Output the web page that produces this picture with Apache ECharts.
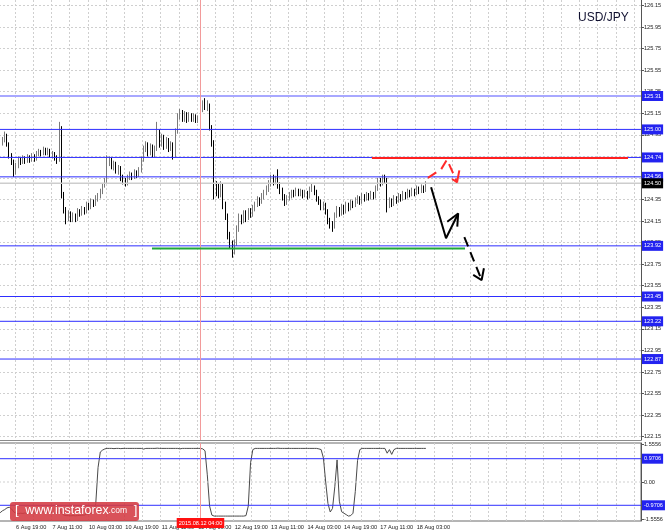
<!DOCTYPE html>
<html><head><meta charset="utf-8">
<script src="https://cdn.jsdelivr.net/npm/echarts@6/dist/echarts.min.js"></script>
<style>html,body{margin:0;padding:0;background:#fff}#c{width:665px;height:530px}</style>
</head><body><div id="c"></div>
<script>
// ---- data (H1 bars, 6 Aug 12:00 .. 18 Aug 07:00), [open, close, low, high]
const ohlc = [
[124.85,124.88,124.82,124.91],[124.88,124.90,124.85,124.93],[124.90,124.94,124.88,124.98],[124.94,124.86,124.84,124.96],
[124.86,124.76,124.73,124.88],[124.76,124.70,124.67,124.78],[124.70,124.60,124.56,124.72],[124.60,124.66,124.58,124.69],
[124.66,124.72,124.64,124.75],[124.72,124.70,124.67,124.74],[124.70,124.73,124.68,124.76],[124.73,124.71,124.68,124.75],
[124.71,124.74,124.69,124.77],[124.74,124.72,124.69,124.76],[124.72,124.75,124.70,124.78],[124.75,124.73,124.70,124.77],
[124.73,124.77,124.71,124.80],[124.77,124.79,124.75,124.82],[124.79,124.78,124.75,124.81],[124.78,124.81,124.76,124.84],
[124.81,124.79,124.76,124.83],[124.79,124.80,124.76,124.83],[124.80,124.77,124.74,124.82],[124.77,124.78,124.73,124.80],
[124.78,124.74,124.71,124.79],[124.74,124.72,124.68,124.76],[124.72,125.00,124.70,125.07],[125.00,124.40,124.36,125.03],
[124.40,124.26,124.22,124.42],[124.26,124.18,124.12,124.28],[124.18,124.22,124.15,124.25],[124.22,124.16,124.14,124.24],
[124.16,124.20,124.14,124.23],[124.20,124.17,124.14,124.22],[124.17,124.24,124.15,124.27],[124.24,124.22,124.19,124.26],
[124.22,124.26,124.20,124.29],[124.26,124.24,124.21,124.28],[124.24,124.30,124.22,124.33],[124.30,124.28,124.25,124.32],
[124.28,124.33,124.26,124.36],[124.33,124.31,124.28,124.35],[124.31,124.36,124.29,124.39],[124.36,124.38,124.33,124.41],
[124.38,124.42,124.36,124.45],[124.42,124.48,124.40,124.50],[124.48,124.52,124.46,124.55],[124.52,124.70,124.50,124.76],
[124.70,124.72,124.66,124.75],[124.72,124.66,124.63,124.74],[124.66,124.69,124.62,124.71],[124.69,124.62,124.59,124.70],
[124.62,124.64,124.58,124.67],[124.64,124.56,124.52,124.66],[124.56,124.52,124.49,124.58],[124.52,124.50,124.47,124.55],
[124.50,124.55,124.48,124.58],[124.55,124.58,124.53,124.61],[124.58,124.56,124.53,124.60],[124.56,124.60,124.54,124.63],
[124.60,124.58,124.55,124.62],[124.58,124.62,124.56,124.65],[124.62,124.72,124.60,124.75],[124.72,124.82,124.70,124.85],
[124.82,124.86,124.79,124.89],[124.86,124.78,124.75,124.88],[124.78,124.84,124.76,124.87],[124.84,124.76,124.74,124.86],
[124.76,124.82,124.74,124.85],[124.82,124.98,124.80,125.07],[124.98,124.86,124.83,125.00],[124.86,124.93,124.84,124.96],
[124.93,124.84,124.81,124.95],[124.84,124.90,124.82,124.93],[124.90,124.82,124.79,124.92],[124.82,124.86,124.80,124.89],
[124.86,124.76,124.72,124.88],[124.76,124.98,124.74,125.01],[124.98,125.12,124.96,125.15],[125.12,125.16,125.09,125.19],
[125.16,125.10,125.07,125.18],[125.10,125.14,125.07,125.17],[125.14,125.09,125.06,125.16],[125.09,125.13,125.07,125.16],
[125.13,125.10,125.07,125.15],[125.10,125.12,125.07,125.15],[125.12,125.08,125.06,125.14],[125.08,125.10,125.06,125.13],
[125.10,125.18,125.08,125.20],[125.18,125.24,125.16,125.27],[125.24,125.21,125.18,125.29],[125.21,125.22,125.17,125.27],
[125.22,125.02,124.99,125.24],[125.02,124.88,124.84,125.04],[124.88,124.48,124.35,124.90],[124.48,124.45,124.38,124.52],
[124.45,124.40,124.36,124.50],[124.40,124.48,124.37,124.52],[124.48,124.30,124.26,124.50],[124.30,124.20,124.16,124.33],
[124.20,124.02,123.98,124.22],[124.02,123.94,123.90,124.05],[123.94,123.88,123.81,123.97],[123.88,123.95,123.84,123.98],
[123.95,124.08,123.92,124.11],[124.08,124.18,124.05,124.22],[124.18,124.15,124.12,124.21],[124.15,124.22,124.13,124.25],
[124.22,124.18,124.14,124.25],[124.18,124.24,124.16,124.27],[124.24,124.21,124.18,124.27],[124.21,124.27,124.19,124.30],
[124.27,124.30,124.24,124.33],[124.30,124.35,124.28,124.38],[124.35,124.33,124.29,124.37],[124.33,124.38,124.31,124.41],
[124.38,124.41,124.35,124.44],[124.41,124.45,124.39,124.48],[124.45,124.50,124.42,124.53],[124.50,124.56,124.47,124.58],
[124.56,124.52,124.48,124.58],[124.52,124.55,124.49,124.57],[124.55,124.48,124.45,124.63],[124.48,124.44,124.40,124.51],
[124.44,124.38,124.34,124.46],[124.38,124.33,124.29,124.40],[124.33,124.36,124.30,124.39],[124.36,124.39,124.34,124.42],
[124.39,124.42,124.36,124.44],[124.42,124.40,124.37,124.44],[124.40,124.43,124.38,124.46],[124.43,124.41,124.38,124.45],
[124.41,124.42,124.38,124.45],[124.42,124.39,124.36,124.44],[124.39,124.41,124.37,124.44],[124.41,124.38,124.35,124.43],
[124.38,124.44,124.36,124.47],[124.44,124.47,124.42,124.50],[124.47,124.42,124.39,124.48],[124.42,124.36,124.33,124.44],
[124.36,124.33,124.30,124.38],[124.33,124.28,124.25,124.35],[124.28,124.30,124.25,124.33],[124.30,124.24,124.21,124.32],
[124.24,124.15,124.12,124.26],[124.15,124.12,124.08,124.18],[124.12,124.10,124.05,124.15],[124.10,124.20,124.08,124.23],
[124.20,124.26,124.18,124.29],[124.26,124.22,124.19,124.28],[124.22,124.28,124.20,124.31],[124.28,124.24,124.21,124.30],
[124.24,124.30,124.22,124.33],[124.30,124.27,124.24,124.32],[124.27,124.32,124.25,124.35],[124.32,124.30,124.27,124.34],
[124.30,124.34,124.28,124.37],[124.34,124.36,124.31,124.39],[124.36,124.33,124.30,124.38],[124.33,124.38,124.31,124.41],
[124.38,124.36,124.33,124.40],[124.36,124.39,124.34,124.42],[124.39,124.37,124.34,124.41],[124.37,124.40,124.35,124.43],
[124.40,124.38,124.35,124.42],[124.38,124.45,124.36,124.48],[124.45,124.52,124.43,124.55],[124.52,124.50,124.47,124.55],
[124.50,124.55,124.48,124.58],[124.55,124.53,124.50,124.58],[124.53,124.30,124.23,124.55],[124.30,124.34,124.27,124.37],
[124.34,124.31,124.28,124.36],[124.31,124.36,124.29,124.39],[124.36,124.34,124.31,124.38],[124.34,124.38,124.32,124.41],
[124.38,124.36,124.33,124.40],[124.36,124.40,124.34,124.43],[124.40,124.38,124.35,124.42],[124.38,124.42,124.36,124.45],
[124.42,124.40,124.37,124.44],[124.40,124.43,124.38,124.46],[124.43,124.41,124.38,124.45],[124.41,124.45,124.39,124.48],
[124.45,124.43,124.40,124.47],[124.43,124.46,124.41,124.49],[124.46,124.44,124.41,124.48],[124.44,124.50,124.42,124.52]
];
const osc = [
-1.28,-1.20,-1.15,-1.08,-1.05,-1.12,-1.25,-1.30,-1.32,-1.30,
-1.31,-1.29,-1.32,-1.30,-1.28,-1.30,-1.27,-1.25,-1.26,-1.24,
-1.26,-1.25,-1.28,-1.27,-1.30,-1.32,-1.05,-1.30,-1.38,-1.40,
-1.40,-1.41,-1.40,-1.41,-1.40,-1.39,-1.38,-1.38,-1.34,-1.33,
-1.30,-1.25,-0.90,0.60,1.25,1.33,1.38,1.40,1.40,1.40,
1.39,1.40,1.40,1.39,1.40,1.40,1.40,1.40,1.40,1.40,
1.40,1.40,1.40,1.37,1.40,1.40,1.40,1.40,1.40,1.41,
1.40,1.40,1.40,1.40,1.40,1.40,1.40,1.40,1.40,1.38,
1.40,1.40,1.40,1.40,1.40,1.40,1.40,1.40,1.40,1.38,
1.30,0.30,-1.00,-1.38,-1.42,-1.42,-1.42,-1.42,-1.42,-1.42,
-1.42,-1.42,-1.42,-1.42,-1.42,-1.42,-1.42,-1.42,-1.40,-1.00,
0.80,1.35,1.40,1.40,1.40,1.40,1.40,1.40,1.40,1.40,
1.40,1.40,1.41,1.40,1.40,1.40,1.40,1.40,1.40,1.40,
1.40,1.40,1.40,1.40,1.40,1.40,1.40,1.40,1.40,1.40,
1.38,1.35,1.00,0.00,-0.90,-1.25,-1.10,-0.20,0.92,-0.80,
-1.24,-1.30,-1.36,-1.42,-1.40,-1.30,-0.40,0.90,1.35,1.40,
1.40,1.40,1.40,1.40,1.40,1.40,1.40,1.40,1.40,1.40,
1.20,1.35,1.15,1.35,1.40,1.40,1.40,1.40,1.40,1.40,
1.40,1.40,1.40,1.40,1.40,1.40,1.40,1.40
];
const slotCount = 282;               // hourly slots shown on the time axis (incl. empty future)
const tickIndex = [7,23,39,55,71,87,103,119,135,151,167,183];
const tickText = ['6 Aug 19:00','7 Aug 11:00','10 Aug 03:00','10 Aug 19:00','11 Aug 11:00','12 Aug 03:00',
                  '12 Aug 19:00','13 Aug 11:00','14 Aug 03:00','14 Aug 19:00','17 Aug 11:00','18 Aug 03:00'];
const priceTicks = [122.15,122.35,122.55,122.75,122.95,123.15,123.35,123.55,123.75,123.95,124.15,124.35,124.55,124.75,124.95,125.15,125.35,125.55,125.75,125.95,126.15];
const oscTicks = [-1.5556, 0, 1.5556];
const blueLevels = [125.00, 124.74, 124.56, 123.92, 123.45, 123.22, 122.87];
const topLevel = 125.31;
const bidLevel = 124.50;
const oscLevels = [0.9706, -0.9706];
const markerIndex = 88;
const markerText = '2015.08.12 04:00';
// drawn annotations in [bar index, price]
const redLevel = [[163.3,124.735],[275.8,124.735]];
const greenLevel = [[66.7,123.895],[204.2,123.895]];
const redPath = [[187.9,124.55],[193.7,124.63],[196.3,124.72],[200.7,124.51]];
const redHead = [[198.5,124.54],[200.7,124.51],[201.7,124.62]];
const blackPath = [[189.3,124.463],[195.85,123.99],[201.2,124.22]];
const blackHead = [[196.4,124.144],[201.2,124.22],[200.8,124.098]];
const blackDash = [[203.9,124.0],[211.5,123.603]];
const blackDashHead = [[207.8,123.65],[211.5,123.603],[212.5,123.712]];

const slots = Array.from({length: slotCount}, (_, i) => i);
const X0 = -0.5, X1 = slotCount - 0.5;
const FONT = 'Liberation Sans';
const FS = 5.6;
const BLUE = '#2e2eff';
const BOXBLUE = '#2323f0';
const gridLine = {show: true, lineStyle: {color: '#cfcfcf', type: [2, 2], width: 1}};
const vSplit = Object.assign({interval: (i) => (i - 7) % 8 === 0}, gridLine);

function annot(data, color, dashed, width) {
  return {type: 'line', xAxisIndex: 2, yAxisIndex: 0, data: data, showSymbol: false, symbol: 'none',
    silent: true, animation: false, z: 5, itemStyle: {color: color},
    lineStyle: {color: color, width: width || 2, type: dashed ? [10, 6] : 'solid', cap: 'butt'}};
}
// full-width horizontal level with a boxed value at the right end
function level(xi, yi, v, color, width, bg, digits, dashed) {
  return {type: 'line', xAxisIndex: xi, yAxisIndex: yi, data: [[X0, v], [X1, v]], showSymbol: false, symbol: 'none',
    silent: true, animation: false, z: 3, itemStyle: {color: color}, clip: false,
    lineStyle: {color: color, width: width, type: dashed ? [2, 2] : 'solid'},
    endLabel: bg ? {show: true, formatter: () => v.toFixed(digits), distance: 1, color: '#fff', backgroundColor: bg,
      padding: [2, 2, 1, 2], fontSize: FS, fontFamily: FONT, lineHeight: 7} : {show: false}};
}

const series = [
  {type: 'candlestick', xAxisIndex: 0, yAxisIndex: 0, data: ohlc, barWidth: 1.3, silent: true, z: 2,
   itemStyle: {color: '#8e8e8e', color0: '#000', borderColor: '#7a7a7a', borderColor0: '#000', borderWidth: 1},
   markLine: {symbol: 'none', silent: true, animation: false, label: {show: false},
     data: [{xAxis: markerIndex, lineStyle: {color: '#f29a9a', width: 1, type: 'solid'}}]}},
  {type: 'line', xAxisIndex: 1, yAxisIndex: 1, data: osc, showSymbol: false, symbol: 'none', silent: true, z: 2,
   itemStyle: {color: '#4a4a4a'}, lineStyle: {color: '#4a4a4a', width: 1},
   markLine: {symbol: 'none', silent: true, animation: false,
     data: [{xAxis: markerIndex, lineStyle: {color: '#f29a9a', width: 1, type: 'solid'},
       label: {show: true, position: 'start', distance: 0, offset: [0, -3], formatter: markerText, color: '#fff',
               backgroundColor: '#ff1010', padding: [2, 2, 1, 2], fontSize: FS, fontFamily: FONT, lineHeight: 7}}]}},
  level(2, 0, topLevel, '#a8a8ff', 2, BOXBLUE, 2),
  ...blueLevels.map(v => level(2, 0, v, BLUE, 1, BOXBLUE, 2)),
  level(2, 0, bidLevel, '#cdcdcd', 1.5, '#000', 2),
  level(3, 1, 0, '#cfcfcf', 1, null, 2, true),
  ...oscLevels.map(v => level(3, 1, v, BLUE, 1, BOXBLUE, 4)),
  annot(redLevel, '#ff1f1f', false, 2),
  annot(greenLevel, '#1fa83a', false, 2),
  annot(redPath, '#ff2a2a', true, 2),
  annot(redHead, '#ff2a2a', false, 2),
  annot(blackPath, '#000', false, 2),
  annot(blackHead, '#000', false, 2),
  annot(blackDash, '#000', true, 2),
  annot(blackDashHead, '#000', false, 2)
];

const chart = echarts.init(document.getElementById('c'), null, {renderer: 'canvas'});
chart.setOption({
  backgroundColor: '#fff',
  animation: false,
  title: {text: 'USD/JPY', left: 578, top: 12, padding: 0, textStyle: {fontSize: 12, fontWeight: 'normal', color: '#101030', fontFamily: FONT}},
  grid: [
    {left: -1, top: 0, width: 642, height: 440, outerBoundsMode: 'none', containLabel: false},
    {left: -1, top: 443, width: 642, height: 78, outerBoundsMode: 'none', containLabel: false, show: true, borderColor: '#6a6a6a', borderWidth: 1}
  ],
  xAxis: [
    {type: 'category', gridIndex: 0, data: slots, boundaryGap: true,
     axisLine: {show: true, onZero: false, lineStyle: {color: '#8a8a8a'}}, axisTick: {show: false}, axisLabel: {show: false}, splitLine: vSplit},
    {type: 'category', gridIndex: 1, data: slots, boundaryGap: true,
     axisLine: {show: false, onZero: false}, axisTick: {show: false},
     axisLabel: {show: true, interval: (i) => tickIndex.indexOf(i) >= 0, formatter: (v) => {const k = tickIndex.indexOf(+v); return k >= 0 ? tickText[k] : '';},
       align: 'left', margin: 3, fontSize: FS, fontFamily: FONT, color: '#222'},
     splitLine: vSplit},
    {type: 'value', gridIndex: 0, min: X0, max: X1, show: false, axisLine: {onZero: false}},
    {type: 'value', gridIndex: 1, min: X0, max: X1, show: false, axisLine: {onZero: false}}
  ],
  yAxis: [
    {type: 'value', gridIndex: 0, position: 'right', min: 122.119, max: 126.2005, scale: true,
     axisLine: {show: true, onZero: false, lineStyle: {color: '#555'}},
     axisTick: {show: true, length: 3, customValues: priceTicks, lineStyle: {color: '#555'}},
     axisLabel: {show: true, customValues: priceTicks, formatter: (v) => v.toFixed(2), margin: 3, fontSize: FS, fontFamily: FONT, color: '#222'},
     splitLine: gridLine},
    {type: 'value', gridIndex: 1, position: 'right', min: -1.625, max: 1.625,
     axisLine: {show: true, onZero: false, lineStyle: {color: '#555'}},
     axisTick: {show: true, length: 3, customValues: oscTicks, lineStyle: {color: '#555'}},
     axisLabel: {show: true, customValues: oscTicks, formatter: (v) => v === 0 ? '0.00' : v.toFixed(4), margin: 3, fontSize: FS, fontFamily: FONT, color: '#222'},
     splitLine: {show: false}}
  ],
  series: series,
  graphic: [
    {type: 'rect', left: 10, top: 502, z: 100, silent: true, shape: {width: 129, height: 19, r: 3}, style: {fill: 'rgba(212,58,66,0.88)'}},
    {type: 'text', left: 15, top: 504, z: 101, silent: true, style: {text: '{a|[}  {b|www.instaforex}{c|.com}  {a|]}',
      rich: {a: {fontSize: 13, fill: '#fff', fontFamily: FONT}, b: {fontSize: 12.4, fill: '#fff', fontFamily: FONT}, c: {fontSize: 8.5, fill: '#fff', fontFamily: FONT}},
      fill: '#fff', fontFamily: FONT}}
  ]
});
</script></body></html>
